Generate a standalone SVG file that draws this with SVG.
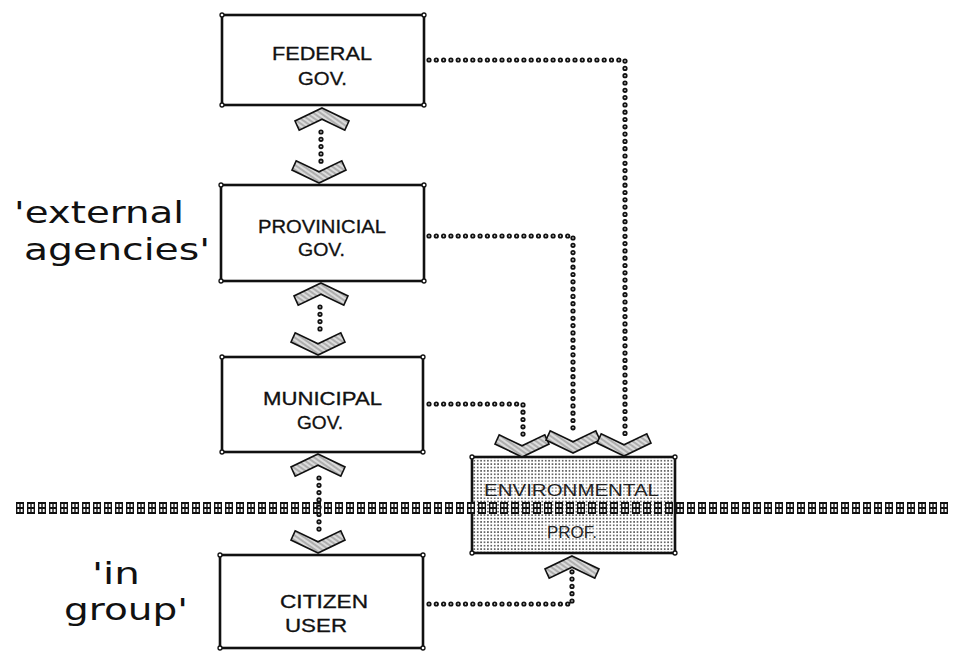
<svg xmlns="http://www.w3.org/2000/svg" xmlns:xlink="http://www.w3.org/1999/xlink" width="953" height="655" viewBox="0 0 953 655">
<style>
.box{fill:#fff;stroke:#111;stroke-width:2.6}
.corner{fill:#fff;stroke:#111;stroke-width:1.3}
.lbl{font-family:"Liberation Sans",Arial,sans-serif;font-size:18px;fill:#111;stroke:#111;stroke-width:0.3}
.envl{font-family:"Liberation Sans",Arial,sans-serif;font-size:17px;fill:#222}
.side{font-family:"DejaVu Sans",sans-serif;font-size:30px;fill:#111}
.dotO{fill:none;stroke:#111;stroke-width:5.2;stroke-linecap:round;stroke-dasharray:0 7.3}
.dotI{fill:none;stroke:#fff;stroke-width:1.6;stroke-linecap:round;stroke-dasharray:0 7.3}
.chev{fill:url(#hatch);stroke:#111;stroke-width:1.6;stroke-linejoin:miter}
</style>
<defs>
<pattern id="hatch" width="4" height="4" patternUnits="userSpaceOnUse" patternTransform="rotate(35)">
<rect width="4" height="4" fill="#dcdcdc"/>
<line x1="0" y1="1" x2="4" y2="1" stroke="#888" stroke-width="1.1"/>
</pattern>
<pattern id="stipple" width="3.4" height="3.4" patternUnits="userSpaceOnUse">
<rect width="3.4" height="3.4" fill="#fff"/>
<circle cx="1.7" cy="1.7" r="0.8" fill="#222"/>
</pattern>
<pattern id="band" width="11" height="12" patternUnits="userSpaceOnUse" x="15" y="502">
<rect x="1" y="0" width="8" height="12" fill="#111"/>
<rect x="2.4" y="2" width="5.2" height="3" fill="#fff"/>
<rect x="2.4" y="7" width="5.2" height="3" fill="#fff"/>
<rect x="4.3" y="1.5" width="1.4" height="9" fill="#111"/>
</pattern>
<path id="chev" d="M0,0 L27,13 L22.8,22.1 L0,11.2 L-22.8,22.1 L-27,13 Z"/>
</defs>
<rect width="953" height="655" fill="#fff"/>

<g id="side-labels">
<text class="side" x="14" y="223" textLength="170" lengthAdjust="spacingAndGlyphs">'external</text>
<text class="side" x="24" y="260" textLength="186" lengthAdjust="spacingAndGlyphs">agencies'</text>
<text class="side" x="92" y="584" textLength="48" lengthAdjust="spacingAndGlyphs">'in</text>
<text class="side" x="64" y="620" textLength="124" lengthAdjust="spacingAndGlyphs">group'</text>
</g>

<g id="federal">
<rect class="box" x="222" y="15" width="202" height="90"/>
<circle class="corner" cx="222" cy="15" r="2"/><circle class="corner" cx="424" cy="15" r="2"/>
<circle class="corner" cx="222" cy="105" r="2"/><circle class="corner" cx="424" cy="105" r="2"/>
<text class="lbl" x="272" y="60" textLength="100" lengthAdjust="spacingAndGlyphs">FEDERAL</text>
<text class="lbl" x="298" y="85" textLength="49" lengthAdjust="spacingAndGlyphs">GOV.</text>
</g>

<g id="provincial">
<rect class="box" x="221" y="185" width="203" height="96"/>
<circle class="corner" cx="221" cy="185" r="2"/><circle class="corner" cx="424" cy="185" r="2"/>
<circle class="corner" cx="221" cy="281" r="2"/><circle class="corner" cx="424" cy="281" r="2"/>
<text class="lbl" x="258" y="233" textLength="128" lengthAdjust="spacingAndGlyphs">PROVINICIAL</text>
<text class="lbl" x="298" y="256" textLength="47" lengthAdjust="spacingAndGlyphs">GOV.</text>
</g>

<g id="municipal">
<rect class="box" x="222" y="357" width="201" height="95"/>
<circle class="corner" cx="222" cy="357" r="2"/><circle class="corner" cx="423" cy="357" r="2"/>
<circle class="corner" cx="222" cy="452" r="2"/><circle class="corner" cx="423" cy="452" r="2"/>
<text class="lbl" x="263" y="405" textLength="119" lengthAdjust="spacingAndGlyphs">MUNICIPAL</text>
<text class="lbl" x="297" y="429" textLength="46" lengthAdjust="spacingAndGlyphs">GOV.</text>
</g>

<g id="citizen">
<rect class="box" x="220" y="555" width="203" height="93"/>
<circle class="corner" cx="220" cy="555" r="2"/><circle class="corner" cx="423" cy="555" r="2"/>
<circle class="corner" cx="220" cy="648" r="2"/><circle class="corner" cx="423" cy="648" r="2"/>
<text class="lbl" x="280" y="608" textLength="88" lengthAdjust="spacingAndGlyphs">CITIZEN</text>
<text class="lbl" x="285" y="632" textLength="62" lengthAdjust="spacingAndGlyphs">USER</text>
</g>

<g id="environmental">
<rect class="box" x="472" y="457" width="203" height="96" style="fill:url(#stipple)"/>
<circle class="corner" cx="472" cy="457" r="2"/><circle class="corner" cx="675" cy="457" r="2"/>
<circle class="corner" cx="472" cy="553" r="2"/><circle class="corner" cx="675" cy="553" r="2"/>
<rect x="482" y="480" width="180" height="18" fill="#fff" opacity="0.35"/>
<text class="envl" x="484" y="496" textLength="175" lengthAdjust="spacingAndGlyphs">ENVIRONMENTAL</text>
<rect x="545" y="522" width="54" height="18" fill="#fff" opacity="0.35"/>
<text class="envl" x="547" y="538" textLength="50" lengthAdjust="spacingAndGlyphs">PROF.</text>
</g>

<g id="divider">
<rect x="15" y="502" width="935" height="12" fill="url(#band)"/>
</g>

<g id="connectors">
<path class="dotO" d="M429,60 H625 V434"/>
<path class="dotI" d="M429,60 H625 V434"/>
<path class="dotO" d="M429,236 H573 V430"/>
<path class="dotI" d="M429,236 H573 V430"/>
<path class="dotO" d="M429,404 H523 V436"/>
<path class="dotI" d="M429,404 H523 V436"/>
<path class="dotO" d="M429,604 H572 V570"/>
<path class="dotI" d="M429,604 H572 V570"/>
<path class="dotO" d="M321,132 V162"/>
<path class="dotI" d="M321,132 V162"/>
<path class="dotO" d="M320,307 V334"/>
<path class="dotI" d="M320,307 V334"/>
<path class="dotO" d="M319,478 V530"/>
<path class="dotI" d="M319,478 V530"/>
<use xlink:href="#chev" class="chev" transform="translate(322,108)"/>
<use xlink:href="#chev" class="chev" transform="translate(319,183) rotate(180)"/>
<use xlink:href="#chev" class="chev" transform="translate(321,283)"/>
<use xlink:href="#chev" class="chev" transform="translate(318,355) rotate(180)"/>
<use xlink:href="#chev" class="chev" transform="translate(318,454)"/>
<use xlink:href="#chev" class="chev" transform="translate(318,553) rotate(180)"/>
<use xlink:href="#chev" class="chev" transform="translate(522,457) rotate(180)"/>
<use xlink:href="#chev" class="chev" transform="translate(573,453) rotate(180)"/>
<use xlink:href="#chev" class="chev" transform="translate(624,456) rotate(180)"/>
<use xlink:href="#chev" class="chev" transform="translate(572,556)"/>
</g>
</svg>
